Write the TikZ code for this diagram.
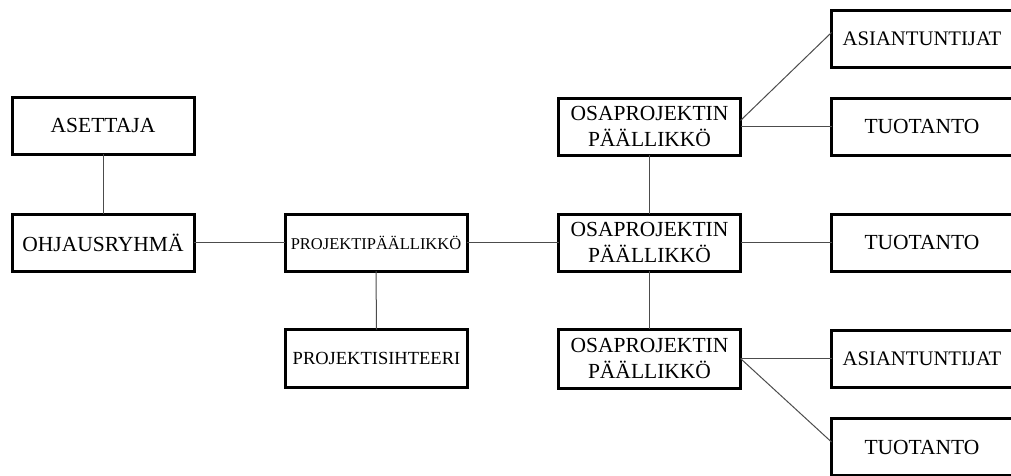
\documentclass[tikz,border=0pt]{standalone}
\usepackage{fontspec}
\setmainfont{Liberation Serif}

\begin{document}
\begin{tikzpicture}[x=1pt,y=-1pt,
  box/.style={draw=black,line width=3pt,rectangle,inner sep=0pt,outer sep=0pt,
    minimum width=182pt,minimum height=57pt,align=center,
    font=\fontsize{21.5}{26}\selectfont},
  sidebox/.style={box,minimum width=181pt},
  link/.style={draw=black!70,line width=1pt}]
\useasboundingbox (0,0) rectangle (1011,475);

% vasen puoli
\node[box] (asettaja) at (103,125.5) {ASETTAJA};
\node[box] (ohjaus) at (103,242.5) {OHJAUSRYHMÄ};
\node[box,font=\fontsize{16.5}{20}\selectfont] (projpaa) at (376,242.5) {PROJEKTIPÄÄLLIKKÖ};
\node[box,minimum height=58pt,font=\fontsize{18.5}{22}\selectfont] (sihteeri) at (376.5,358.5) {PROJEKTISIHTEERI};

% osaprojektit
\node[box] (osa1) at (649.5,126.5) {OSAPROJEKTIN\\PÄÄLLIKKÖ};
\node[box] (osa2) at (649.5,242.5) {OSAPROJEKTIN\\PÄÄLLIKKÖ};
\node[box,minimum height=59pt] (osa3) at (649.5,358.5) {OSAPROJEKTIN\\PÄÄLLIKKÖ};

% oikea reuna
\node[sidebox,font=\fontsize{20.7}{25}\selectfont] (asian1) at (922,38.5) {ASIANTUNTIJAT};
\node[sidebox] (tuo1) at (922,126.5) {TUOTANTO};
\node[sidebox] (tuo2) at (922,242.5) {TUOTANTO};
\node[sidebox,font=\fontsize{20.7}{25}\selectfont] (asian2) at (922,358.5) {ASIANTUNTIJAT};
\node[sidebox] (tuo3) at (922,447) {TUOTANTO};

% yhteydet
\draw[link] (asettaja.south) -- (ohjaus.north);
\draw[link] (ohjaus.east) -- (projpaa.west);
\draw[link] (projpaa.south) -- (sihteeri.north);
\draw[link] (projpaa.east) -- (osa2.west);
\draw[link] (osa1.south) -- (osa2.north);
\draw[link] (osa2.south) -- (osa3.north);
\draw[link] ([yshift=6pt]osa1.east) -- ([yshift=6pt]asian1.west);
\draw[link] (osa1.east) -- (tuo1.west);
\draw[link] (osa2.east) -- (tuo2.west);
\draw[link] (osa3.east) -- (asian2.west);
\draw[link] (osa3.east) -- ([yshift=5pt]tuo3.west);

\end{tikzpicture}
\end{document}
